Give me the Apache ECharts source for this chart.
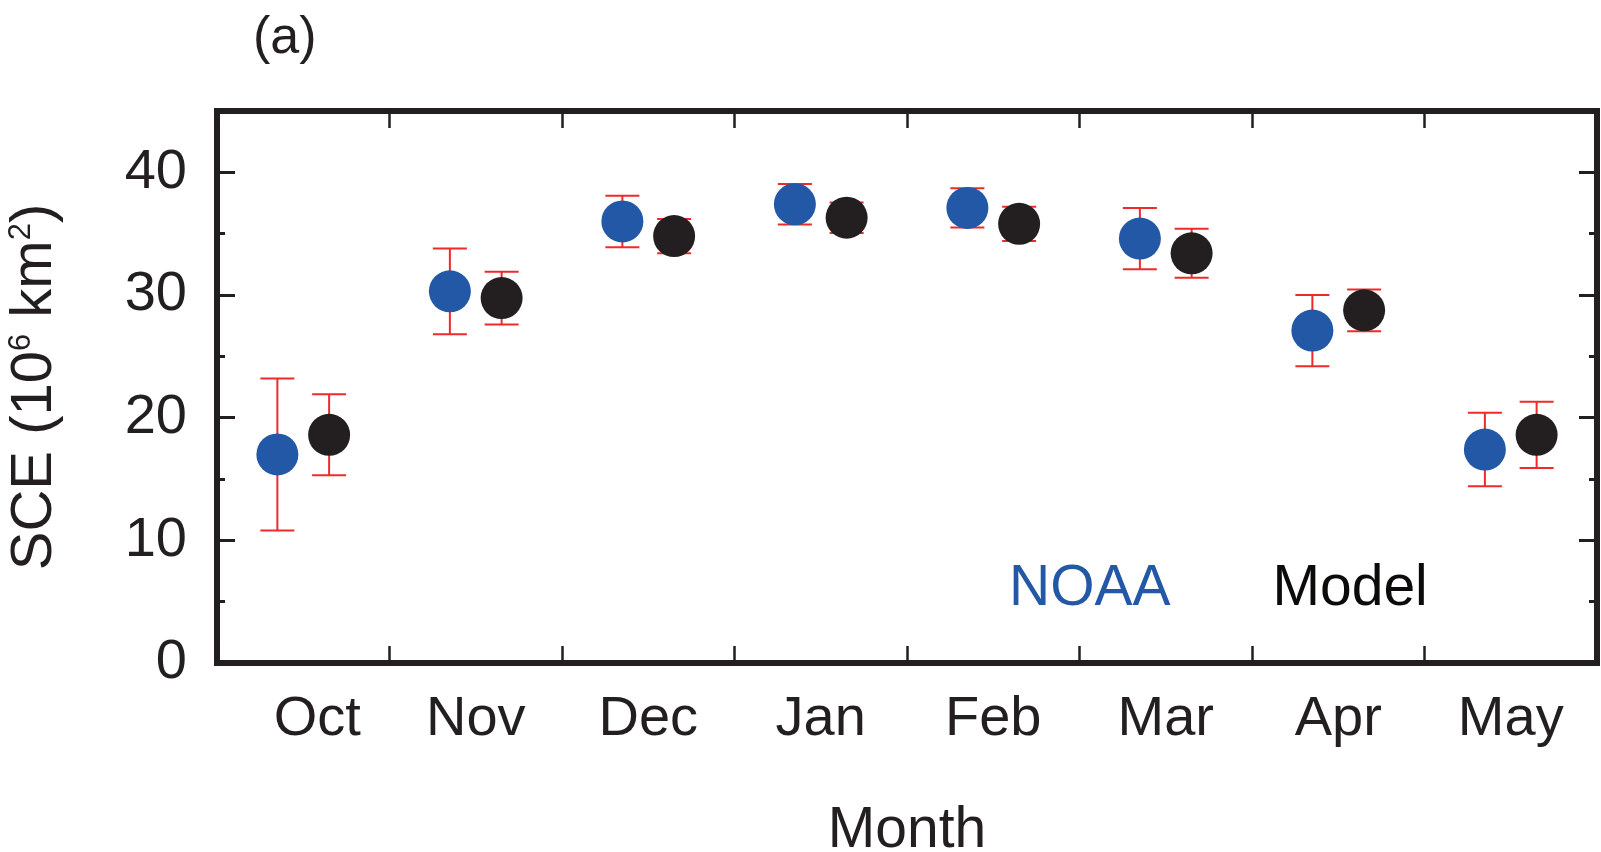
<!DOCTYPE html>
<html>
<head>
<meta charset="utf-8">
<script src="https://cdn.jsdelivr.net/npm/echarts@6/dist/echarts.min.js"></script>
<style>
  html, body { margin: 0; padding: 0; background: #ffffff; }
  #chart { width: 1601px; height: 852px; }
</style>
</head>
<body>
<div id="chart"></div>
<script>
// Monthly snow cover extent: observed (NOAA) vs. simulated (Model), mean ± spread
const months = ['Oct', 'Nov', 'Dec', 'Jan', 'Feb', 'Mar', 'Apr', 'May'];
const noaaMean = [17.0, 30.3, 36.0, 37.4, 37.1, 34.6, 27.1, 17.4];
const noaaErr = [6.2, 3.5, 2.1, 1.65, 1.6, 2.5, 2.9, 3.0];
const modelMean = [18.6, 29.75, 34.8, 36.3, 35.8, 33.4, 28.75, 18.6];
const modelErr = [3.3, 2.15, 1.4, 1.25, 1.4, 2.0, 1.7, 2.7];
const yTicksMajor = 10;
const yTicksMinor = 5;

const FONT = '"Liberation Sans", Arial, Helvetica, sans-serif';
const INK = '#231f20';
const BLUE = '#2358a6';
const DOT_BLACK = '#231f20';
const ERR_RED = '#ee2a2a';
const CAP_HALF = 17;
const DOT_R = 21;

function errorDotSeries(name, means, errs, color, shift) {
  return {
    type: 'custom',
    name: name,
    xAxisIndex: 0,
    yAxisIndex: 0,
    itemStyle: { color: color },
    encode: { x: 0, y: 1 },
    data: means.map(function (m, i) { return [i, m, errs[i]]; }),
    renderItem: function (params, api) {
      const i = api.value(0), m = api.value(1), e = api.value(2);
      const band = api.size([1, 0])[0];
      const c = api.coord([i, m]);
      const x = c[0] + shift * band;
      const yHi = api.coord([i, m + e])[1];
      const yLo = api.coord([i, m - e])[1];
      const bar = { stroke: ERR_RED, lineWidth: 2, fill: null };
      return {
        type: 'group',
        children: [
          { type: 'line', shape: { x1: x, y1: yHi, x2: x, y2: yLo }, style: bar },
          { type: 'line', shape: { x1: x - CAP_HALF, y1: yHi, x2: x + CAP_HALF, y2: yHi }, style: bar },
          { type: 'line', shape: { x1: x - CAP_HALF, y1: yLo, x2: x + CAP_HALF, y2: yLo }, style: bar },
          { type: 'circle', shape: { cx: x, cy: c[1], r: DOT_R }, style: { fill: color } }
        ]
      };
    }
  };
}

function valueAxis(position, interval, tickLen, withLabels) {
  return {
    type: 'value',
    position: position,
    min: 0,
    max: 45,
    interval: interval,
    splitLine: { show: false },
    axisLine: { show: false, onZero: false },
    axisTick: { show: true, inside: true, length: tickLen, lineStyle: { color: INK, width: 3 } },
    axisLabel: withLabels ? {
      show: true,
      margin: 30,
      fontSize: 56,
      fontFamily: FONT,
      color: INK,
      formatter: function (v) { return v % yTicksMajor === 0 ? String(v) : ''; }
    } : { show: false }
  };
}

function monthAxis(position, withLabels) {
  const axis = {
    type: 'category',
    data: months,
    position: position,
    boundaryGap: true,
    axisLine: { show: false, onZero: false },
    axisTick: { show: true, inside: true, length: 17, interval: 0, lineStyle: { color: INK, width: 2.5 } },
    axisLabel: { show: false }
  };
  if (withLabels) {
    axis.axisLabel = {
      show: true,
      interval: 0,
      margin: 29,
      fontSize: 56,
      fontFamily: FONT,
      color: INK,
      formatter: function (v, i) { return i === 0 ? '{first|' + v + '}' : v; },
      rich: { first: { fontSize: 56, fontFamily: FONT, color: INK, padding: [0, 0, 0, 28] } }
    };
    axis.name = 'Month';
    axis.nameLocation = 'middle';
    axis.nameGap = 140;
    axis.nameTextStyle = { fontSize: 57, fontFamily: FONT, color: INK };
  }
  return axis;
}

const chart = echarts.init(document.getElementById('chart'), null, { renderer: 'canvas' });

chart.setOption({
  backgroundColor: '#ffffff',
  animation: false,
  title: {
    text: '(a)',
    left: 253,
    top: 13,
    padding: 0,
    textStyle: { fontSize: 52, fontWeight: 'normal', color: INK, fontFamily: FONT }
  },
  legend: {
    left: 1004,
    top: 561,
    padding: 0,
    itemWidth: 0,
    itemHeight: 0,
    itemGap: 97,
    selectedMode: false,
    textStyle: { fontSize: 57, fontFamily: FONT },
    data: [
      { name: 'NOAA', textStyle: { color: BLUE } },
      { name: 'Model', textStyle: { color: '#0d0a0a' } }
    ]
  },
  grid: {
    left: 217,
    right: 4,
    top: 111,
    bottom: 189,
    containLabel: false,
    outerBoundsMode: 'none',
    show: true,
    borderColor: INK,
    borderWidth: 6,
    backgroundColor: 'transparent'
  },
  xAxis: [monthAxis('bottom', true), monthAxis('top', false)],
  yAxis: [
    Object.assign(valueAxis('left', yTicksMajor, 18, true), {
      name: 'SCE (10{sup|6} km{sup|2})',
      nameLocation: 'middle',
      nameRotate: 90,
      nameGap: 153,
      nameTextStyle: {
        fontSize: 58,
        fontFamily: FONT,
        color: INK,
        rich: { sup: { fontSize: 31, fontFamily: FONT, color: INK, verticalAlign: 'top' } }
      }
    }),
    valueAxis('left', yTicksMinor, 8, false),
    valueAxis('right', yTicksMajor, 18, false),
    valueAxis('right', yTicksMinor, 8, false)
  ],
  series: [
    errorDotSeries('NOAA', noaaMean, noaaErr, BLUE, -0.15),
    errorDotSeries('Model', modelMean, modelErr, DOT_BLACK, 0.15)
  ]
});
</script>
</body>
</html>
